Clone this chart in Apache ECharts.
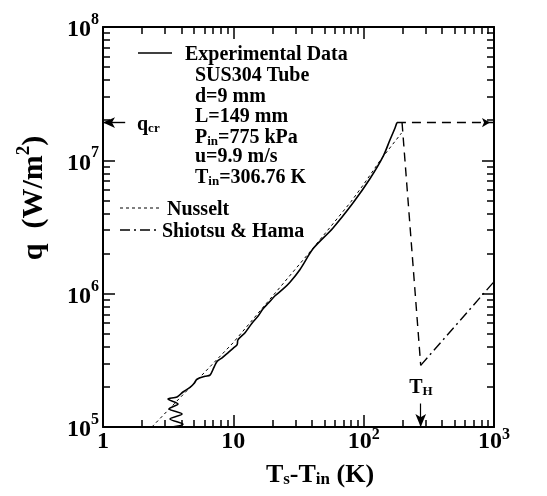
<!DOCTYPE html>
<html><head><meta charset="utf-8">
<script src="https://cdn.jsdelivr.net/npm/echarts@6/dist/echarts.min.js"></script>
<style>
html,body{margin:0;padding:0;background:#fff}
#wrap{position:relative;width:547px;height:496px}
#c,#t{position:absolute;left:0;top:0;width:547px;height:496px}
#t{pointer-events:none}
</style>
</head><body><div id="wrap"><div id="c"></div><div id="t"></div></div>
<script>
const FONT = '"Liberation Serif","Times New Roman",serif';

// Experimental data (Ts-Tin [K], q [W/m2])
const expT = [3.38,4.11,3.27,4.04,3.21,3.76,3.15,3.70,4.11,4.65,4.99,5.26,6.06,6.62,7.1,7.5,8.2,9.1,10.0,10.7,10.85,12.3,13.9,15.5,16.9,18.6,20.8,24.0,27.2,32.5,41,58,83,112,141,159,174,180];
const expQ = [1.0e5,1.05e5,1.15e5,1.25e5,1.37e5,1.49e5,1.62e5,1.68e5,1.83e5,1.98e5,2.12e5,2.28e5,2.4e5,2.45e5,2.8e5,3.1e5,3.3e5,3.6e5,3.9e5,4.15e5,4.5e5,5.1e5,6.0e5,6.8e5,7.7e5,8.5e5,9.6e5,1.08e6,1.22e6,1.52e6,2.18e6,3.1e6,4.8e6,7.3e6,1.07e7,1.42e7,1.75e7,1.92e7];
// Nusselt correlation
const nusT = [2.37,10,41,80,100,134,165,195];
const nusQ = [1.0e5,4.3e5,2.2e6,4.9e6,6.6e6,1.0e7,1.3e7,1.6e7];
// critical heat flux level
const qcr = 1.92e7;
const chfT = [180,1000];
const chfQ = [qcr,qcr];
const dropT = [197,274];
const dropQ = [qcr,2.9e5];
// Shiotsu & Hama
const shT = [274,1000];
const shQ = [2.9e5,1.23e6];
const TH = 274;

// axes
const xMin = 1, xMax = 1000, yMin = 1e5, yMax = 1e8;
const xMajor = [1,10,100,1000];
const xTickLabels = ['{b|1}','{b|10}','{b|10}{s|2}','{b|10}{s|3}'];
const yMajor = [1e5,1e6,1e7,1e8];
const yTickLabels = ['{b|10}{s|5}','{b|10}{s|6}','{b|10}{s|7}','{b|10}{s|8}'];
const xMinor = [2,3,4,5,6,7,8,9,20,30,40,50,60,70,80,90,200,300,400,500,600,700,800,900];
const yMinor = [2e5,3e5,4e5,5e5,6e5,7e5,8e5,9e5,2e6,3e6,4e6,5e6,6e6,7e6,8e6,9e6,2e7,3e7,4e7,5e7,6e7,7e7,8e7,9e7];

const zip = (a,b) => a.map((v,i)=>[v,b[i]]);
const findLbl = (v, arr, lbls) => { for (let i=0;i<arr.length;i++){ if (Math.abs(v-arr[i])/arr[i] < 1e-6) return lbls[i]; } return ''; };
const GRID = () => ({left:103, top:27, right:53, bottom:69});

function richTick(lh){ return {
  b: {fontSize:24, fontWeight:'bold', fontFamily:FONT, color:'#000', lineHeight:lh, verticalAlign:'bottom'},
  s: {fontSize:16, fontWeight:'bold', fontFamily:FONT, color:'#000', lineHeight:16, verticalAlign:'top'}
}; }
function ax(extra){ return Object.assign({
  type:'log', logBase:10,
  axisLine:{show:true, lineStyle:{color:'#000', width:2}},
  axisTick:{show:false},
  splitLine:{show:false}}, extra); }

function txt(x, y, text, align) {
  return {type:'text', x:x, y:y, silent:true, z:100,
    style:{text:text, fontSize:20, fontWeight:'bold', fontFamily:FONT, fill:'#000',
      align: align||'left', verticalAlign:'middle',
      rich:{b:{fontSize:20, fontWeight:'bold', fontFamily:FONT, fill:'#000', lineHeight:26, verticalAlign:'bottom'},
            sub:{fontSize:13, fontWeight:'bold', fontFamily:FONT, fill:'#000', lineHeight:13, verticalAlign:'bottom'}}}};
}

// ---- main chart: axes, curves, annotations ----
const chart = echarts.init(document.getElementById('c'));
chart.setOption({
  animation:false,
  grid:GRID(),
  xAxis:[
    ax({min:xMin, max:xMax, position:'bottom',
      axisLabel:{show:true, margin:0, formatter:v=>findLbl(v,xMajor,xTickLabels), rich:richTick(27)}}),
    ax({min:xMin, max:xMax, position:'top', axisLabel:{show:false}})
  ],
  yAxis:[
    ax({min:yMin, max:yMax, position:'left',
      axisLabel:{show:true, margin:4, formatter:v=>findLbl(v,yMajor,yTickLabels), rich:richTick(30)}}),
    ax({min:yMin, max:yMax, position:'right', axisLabel:{show:false}})
  ],
  series:[
    {name:'Experimental Data', type:'line', data:zip(expT,expQ), showSymbol:false, smooth:0.3,
      lineStyle:{color:'#000', width:1.6}},
    {name:'Nusselt', type:'line', data:zip(nusT,nusQ), showSymbol:false,
      lineStyle:{color:'#000', width:1, type:[3,3]}},
    {name:'qcr', type:'line', data:zip(chfT,chfQ), showSymbol:false,
      lineStyle:{color:'#000', width:1.4, type:[9,6]},
      markLine:{silent:true, symbol:['none','arrow'], symbolSize:[8,12],
        lineStyle:{type:'solid', color:'#000', width:1.4}, label:{show:false},
        data:[[{coord:[1.48,qcr]},{coord:[1,qcr]}]]},
      markPoint:{silent:true, symbol:'arrow', symbolSize:[7,8], symbolRotate:-90, symbolOffset:[-4,0],
        itemStyle:{color:'#000'}, label:{show:false}, data:[{coord:[1000,qcr]}]}
    },
    {name:'drop', type:'line', data:zip(dropT,dropQ), showSymbol:false,
      lineStyle:{color:'#000', width:1.4, type:[9,6]}},
    {name:'Shiotsu & Hama', type:'line', data:zip(shT,shQ), showSymbol:false,
      lineStyle:{color:'#000', width:1.4, type:[10,4,2,4]},
      markLine:{silent:true, symbol:['none','arrow'], symbolSize:[8,13],
        lineStyle:{type:'solid', color:'#000', width:1.2}, label:{show:false},
        data:[[{coord:[TH,1.5e5]},{coord:[TH,1e5]}]]}
    }
  ],
  graphic:[
    {type:'line', silent:true, z:100, shape:{x1:138,y1:53,x2:172,y2:53}, style:{stroke:'#000', lineWidth:1.6}},
    {type:'line', silent:true, z:100, shape:{x1:120,y1:208,x2:162,y2:208}, style:{stroke:'#000', lineWidth:1, lineDash:[3,3]}},
    {type:'line', silent:true, z:100, shape:{x1:120,y1:230,x2:160,y2:230}, style:{stroke:'#000', lineWidth:1.4, lineDash:[10,4,2,4]}},
    txt(185,55,'Experimental Data'),
    txt(195,76,'SUS304 Tube'),
    txt(195,97,'d=9 mm'),
    txt(195,117,'L=149 mm'),
    txt(195,135,'{b|P}{sub|in}{b|=775 kPa}'),
    txt(195,157,'u=9.9 m/s'),
    txt(195,175,'{b|T}{sub|in}{b|=306.76 K}'),
    txt(167,210,'Nusselt'),
    txt(162,232,'Shiotsu & Hama'),
    txt(137,122,'{b|q}{sub|cr}'),
    txt(421,385,'{b|T}{sub|H}','center'),
    {type:'text', x:320, y:472, silent:true, z:100,
      style:{text:'{t|T}{u|s}{t|-T}{u|in}{t| (K)}', align:'center', verticalAlign:'middle',
        rich:{t:{fontSize:26, fontWeight:'bold', fontFamily:FONT, fill:'#000', lineHeight:32, verticalAlign:'bottom'},
              u:{fontSize:17, fontWeight:'bold', fontFamily:FONT, fill:'#000', lineHeight:17, verticalAlign:'bottom'}}}},
    {type:'text', x:32, y:198, rotation:Math.PI/2, silent:true, z:100,
      style:{text:'{t|q  (W/m}{p|2}{t|)}', align:'center', verticalAlign:'middle',
        rich:{t:{fontSize:30, fontWeight:'bold', fontFamily:FONT, fill:'#000', lineHeight:35, verticalAlign:'bottom'},
              p:{fontSize:19, fontWeight:'bold', fontFamily:FONT, fill:'#000', lineHeight:19, verticalAlign:'top'}}}}
  ]
});

// ---- overlay chart: same grid and log axes, drawing only the inside tick marks ----
function tickAx(range, pos, values, len){
  return {type:'log', logBase:10, min:range[0], max:range[1], position:pos,
    axisLine:{show:false}, axisLabel:{show:false}, splitLine:{show:false},
    axisTick:{show:true, inside:true, length:len, customValues:values,
      lineStyle:{color:'#000', width:1.5}}};
}
const tickChart = echarts.init(document.getElementById('t'));
tickChart.setOption({
  animation:false,
  grid:GRID(),
  xAxis:[
    tickAx([xMin,xMax],'bottom',xMajor,12),
    tickAx([xMin,xMax],'top',xMajor,12),
    tickAx([xMin,xMax],'bottom',xMinor,7),
    tickAx([xMin,xMax],'top',xMinor,7)
  ],
  yAxis:[
    tickAx([yMin,yMax],'left',yMajor,12),
    tickAx([yMin,yMax],'right',yMajor,12),
    tickAx([yMin,yMax],'left',yMinor,7),
    tickAx([yMin,yMax],'right',yMinor,7)
  ],
  series:[]
});
</script>
</body></html>
